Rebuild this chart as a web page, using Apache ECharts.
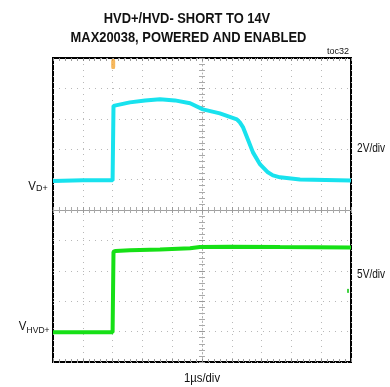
<!DOCTYPE html>
<html>
<head>
<meta charset="utf-8">
<script src="https://cdn.jsdelivr.net/npm/echarts@6/dist/echarts.min.js"></script>
<style>
  html, body { margin: 0; padding: 0; background: #fff; }
  #chart { width: 390px; height: 387px; }
</style>
</head>
<body>
<div id="chart"></div>
<script>
// Time base: 1 µs/div, 10 divisions across the screen (µs from left edge)
const vdTime = [0, 1.0, 2.0, 2.03, 2.08, 2.58, 3.09, 3.59, 4.09, 4.6, 5.03, 5.6, 6.17, 6.27, 6.38, 6.54, 6.71, 6.95, 7.21, 7.38, 7.62, 8.29, 10];
// VD+ (V), 2 V/div
const vdVolts = [0.0, 0.05, 0.05, 4.95, 4.98, 5.18, 5.31, 5.38, 5.31, 5.12, 4.72, 4.46, 4.06, 3.86, 3.53, 2.74, 1.89, 1.10, 0.58, 0.38, 0.25, 0.11, 0.04];

const hvdTime = [0, 1.0, 2.0, 2.03, 2.1, 2.58, 3.59, 4.6, 4.93, 5.94, 7.62, 10];
// VHVD+ (V), 5 V/div
const hvdVolts = [0.0, 0.0, 0.0, 13.25, 13.35, 13.47, 13.6, 13.8, 14.0, 14.06, 14.0, 13.95];

// Trigger marker (time) and channel-2 offset marker
const triggerTime = [2.02];
const ch2Marker = [[9.9, 6.8]];

const FONT = '"Liberation Sans", Arial, sans-serif';

const vdData = vdTime.map((t, i) => [t, vdVolts[i]]);
const hvdData = hvdTime.map((t, i) => [t, hvdVolts[i]]);

const gridDotted = { show: true, lineStyle: { color: '#b8b8b8', type: [1, 5], width: 1 } };
const noLabel = { show: false };

// condensed text helper: anchor (x, y) at the vertical middle of the line
function label(text, x, y, size, align, sx, weight) {
  return {
    type: 'text', x: x, y: y, scaleX: sx, scaleY: 1,
    style: { text: text, font: (weight || 'normal') + ' ' + size + 'px ' + FONT,
             fill: '#111', align: align, verticalAlign: 'middle' }
  };
}

const chart = echarts.init(document.getElementById('chart'), null, { renderer: 'canvas' });
chart.setOption({
  animation: false,
  backgroundColor: '#fff',
  grid: {
    left: 53, top: 58, width: 298, height: 304,
    show: true, borderColor: '#000', borderWidth: 2, backgroundColor: 'transparent'
  },
  xAxis: [
    // screen divisions, bottom edge ticks
    { type: 'value', min: -5, max: 5, interval: 1, position: 'bottom',
      axisLine: { show: false, onZero: false }, axisLabel: noLabel,
      axisTick: { show: true, inside: true, length: 3, lineStyle: { color: '#888' } },
      minorTick: { show: true, splitNumber: 5, length: 3, lineStyle: { color: '#999' } },
      splitLine: gridDotted },
    // top edge ticks
    { type: 'value', min: -5, max: 5, interval: 1, position: 'top',
      axisLine: { show: false, onZero: false }, axisLabel: noLabel,
      axisTick: { show: true, inside: true, length: 3, lineStyle: { color: '#888' } },
      minorTick: { show: true, splitNumber: 5, length: 3, lineStyle: { color: '#999' } },
      splitLine: { show: false } },
    // horizontal centre graticule line (ticks below)
    { type: 'value', min: -5, max: 5, interval: 1, position: 'bottom',
      axisLine: { show: true, onZero: true, onZeroAxisIndex: 0, lineStyle: { color: '#a0a0a0', width: 1 } },
      axisLabel: noLabel,
      axisTick: { show: true, inside: false, length: 3, lineStyle: { color: '#999' } },
      minorTick: { show: true, splitNumber: 5, length: 3, lineStyle: { color: '#aaa' } },
      splitLine: { show: false } },
    // horizontal centre graticule line (ticks above)
    { type: 'value', min: -5, max: 5, interval: 1, position: 'bottom',
      axisLine: { show: false, onZero: true, onZeroAxisIndex: 0 },
      axisLabel: noLabel,
      axisTick: { show: true, inside: true, length: 3, lineStyle: { color: '#999' } },
      minorTick: { show: true, splitNumber: 5, length: 3, lineStyle: { color: '#aaa' } },
      splitLine: { show: false } },
    // time axis for the traces
    { type: 'value', min: 0, max: 10, show: false }
  ],
  yAxis: [
    // screen divisions
    { type: 'value', min: -5, max: 5, interval: 1, position: 'left',
      axisLine: { show: false, onZero: false }, axisLabel: noLabel, axisTick: { show: false },
      splitLine: gridDotted },
    // vertical centre graticule line (ticks left)
    { type: 'value', min: -5, max: 5, interval: 1, position: 'left',
      axisLine: { show: true, onZero: true, onZeroAxisIndex: 0, lineStyle: { color: '#b0b0b0', width: 1, type: [1, 3] } },
      axisLabel: noLabel,
      axisTick: { show: true, inside: false, length: 3, lineStyle: { color: '#999' } },
      minorTick: { show: true, splitNumber: 5, length: 3, lineStyle: { color: '#aaa' } },
      splitLine: { show: false } },
    // vertical centre graticule line (ticks right)
    { type: 'value', min: -5, max: 5, interval: 1, position: 'left',
      axisLine: { show: false, onZero: true, onZeroAxisIndex: 0 },
      axisLabel: noLabel,
      axisTick: { show: true, inside: true, length: 3, lineStyle: { color: '#999' } },
      minorTick: { show: true, splitNumber: 5, length: 3, lineStyle: { color: '#aaa' } },
      splitLine: { show: false } },
    // VD+ channel, 2 V/div
    { type: 'value', min: -11.9, max: 8.1, show: false },
    // VHVD+ channel, 5 V/div
    { type: 'value', min: -4.9, max: 45.1, show: false }
  ],
  series: [
    { name: 'VD+', type: 'line', xAxisIndex: 4, yAxisIndex: 3, data: vdData,
      showSymbol: false, smooth: false, lineStyle: { color: '#18e2ee', width: 4 }, z: 5 },
    { name: 'VHVD+', type: 'line', xAxisIndex: 4, yAxisIndex: 4, data: hvdData,
      showSymbol: false, smooth: false, lineStyle: { color: '#16e016', width: 4 }, z: 5 },
    { name: 'trigger', type: 'scatter', xAxisIndex: 4, yAxisIndex: 0,
      data: triggerTime.map(t => [t, 4.8]), symbol: 'roundRect', symbolSize: [4, 10],
      itemStyle: { color: '#f5a634' }, z: 6 },
    { name: 'ch2', type: 'scatter', xAxisIndex: 4, yAxisIndex: 4,
      data: ch2Marker, symbol: 'rect', symbolSize: [2, 4],
      itemStyle: { color: '#14c814' }, z: 6 }
  ],
  graphic: [
    label('HVD+/HVD- SHORT TO 14V', 187, 18.5, 15, 'center', 0.86, 'bold'),
    label('MAX20038, POWERED AND ENABLED', 188.5, 37.5, 15, 'center', 0.86, 'bold'),
    label('toc32', 349, 52, 9, 'right', 1),
    label('2V/div', 357, 148.5, 13, 'left', 0.78),
    label('5V/div', 357, 274.5, 13, 'left', 0.78),
    label('1µs/div', 202, 378, 13, 'center', 0.87),
    label('V', 36, 186, 13.5, 'right', 0.85),
    label('D+', 36, 189, 9, 'left', 1),
    label('V', 26.5, 326, 13.5, 'right', 0.85),
    label('HVD+', 26.5, 330.5, 9, 'left', 0.95)
  ]
});
</script>
</body>
</html>
